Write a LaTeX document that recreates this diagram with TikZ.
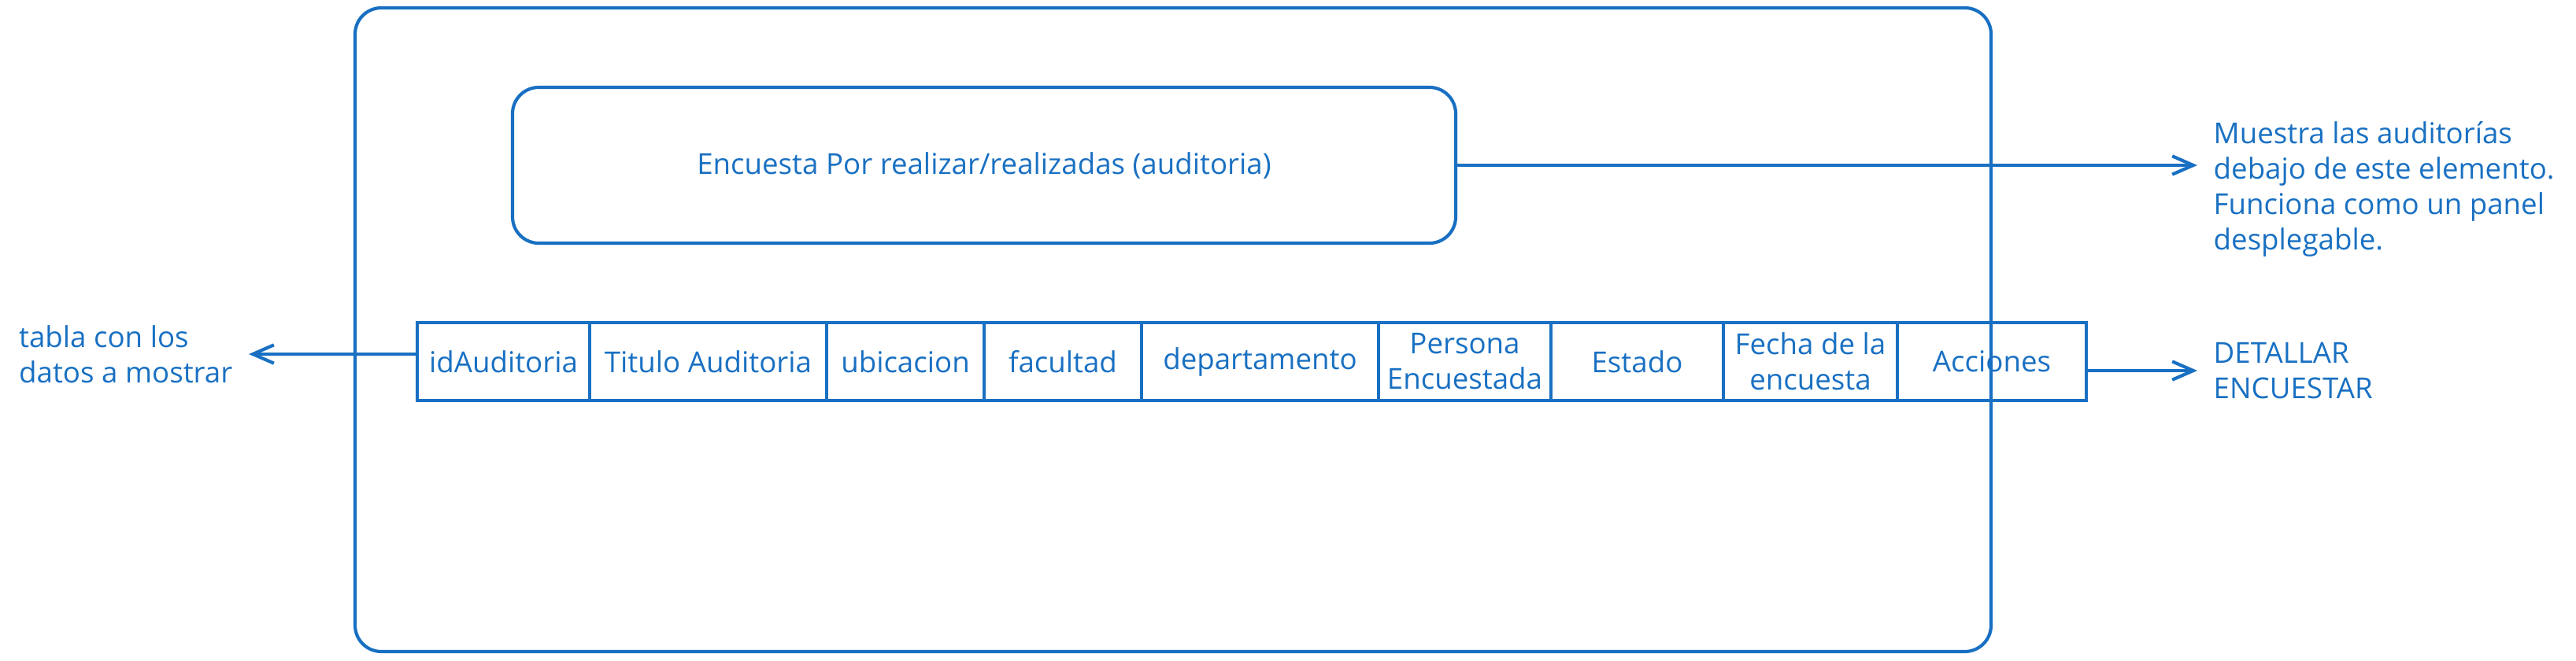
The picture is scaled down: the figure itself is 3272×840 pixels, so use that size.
\documentclass[tikz,border=0pt]{standalone}
\usepackage{fontspec}
\setmainfont{Open Sans}
\definecolor{audblu}{rgb}{0.10,0.44,0.76}
\usepackage{tikz}
\usetikzlibrary{positioning, arrows.meta}

\begin{document}
\begin{tikzpicture}[x=0.3pt, y=-0.3pt, text=audblu,
font=\fontsize{11}{13.5}\selectfont,
marco/.style={draw=audblu, line width=1.25pt, rounded corners=10pt},
celda/.style={draw=audblu, line width=1.25pt, minimum height=29.7pt,
inner sep=0pt, outer sep=0pt, align=center},
nota/.style={align=left, inner sep=3pt},
flecha/.style={draw=audblu, line width=1.25pt,
-{Straight Barb[length=8pt, width=7pt]}, shorten >=3pt}]
\useasboundingbox (0,0) rectangle (3272,840);
\node[marco, minimum width=623.4pt, minimum height=245.4pt] (pantalla) at (1490,419) {};
\node[marco, minimum width=359.4pt, minimum height=59.4pt] (panel) at (1250,210)
{Encuesta Por realizar/realizadas (auditoria)};
\node[celda, minimum width=65.7pt] (c1) at (639.5,459.5) {idAuditoria};
\node[celda, minimum width=90.3pt, right=0pt of c1] (c2) {Titulo Auditoria};
\node[celda, minimum width=60pt, right=0pt of c2] (c3) {ubicacion};
\node[celda, minimum width=60pt, right=0pt of c3] (c4) {facultad};
\node[celda, minimum width=90.3pt, right=0pt of c4] (c5) {departamento};
\node[celda, minimum width=65.7pt, right=0pt of c5] (c6) {Persona\\Encuestada};
\node[celda, minimum width=65.7pt, right=0pt of c6] (c7) {Estado};
\node[celda, minimum width=66.3pt, right=0pt of c7] (c8) {Fecha de la\\encuesta};
\node[celda, minimum width=72pt, right=0pt of c8] (c9) {Acciones};
\node[nota, anchor=west] (muestra) at (2801,240)
{Muestra las auditorías\\debajo de este elemento.\\Funciona como un panel\\desplegable.};
\node[nota, anchor=east] (tabla) at (306,450) {tabla con los\\datos a mostrar};
\node[nota, anchor=west] (acciones) at (2801,471) {DETALLAR\\ENCUESTAR};
\draw[flecha] (panel.east) -- (panel.east -| muestra.west);
\draw[flecha] (tabla.east -| c1.west) -- (tabla.east);
\draw[flecha] (c9.east |- acciones.west) -- (acciones.west);
\end{tikzpicture}
\end{document}
